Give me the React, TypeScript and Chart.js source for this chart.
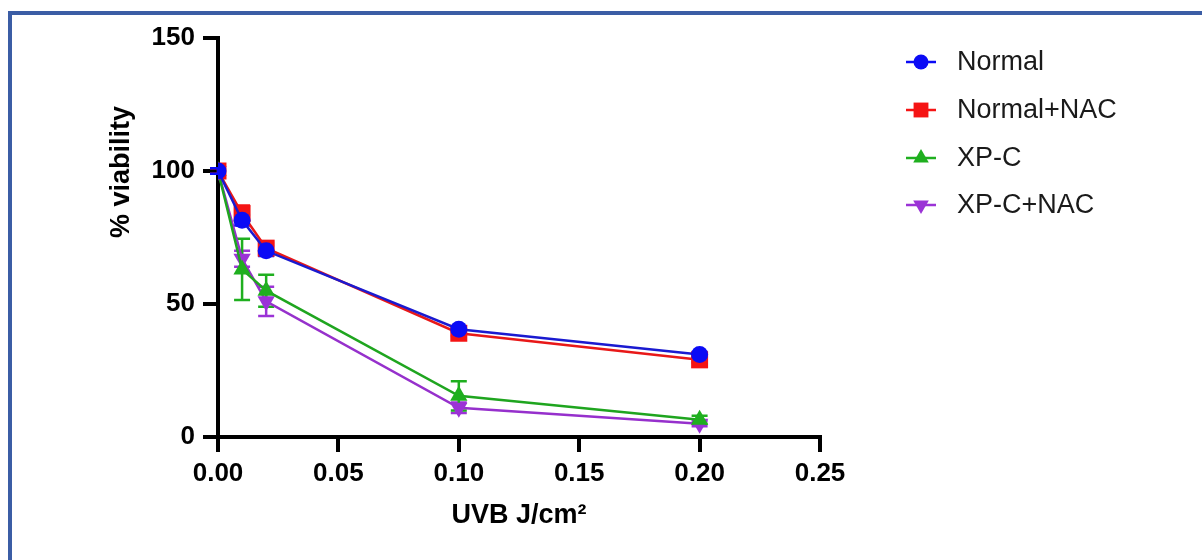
import React, { useEffect, useRef } from "react";
import { Chart, registerables } from "chart.js";

Chart.register(...registerables);

// ---- data ----
const doses = [0, 0.01, 0.02, 0.1, 0.2];
const seriesNames = ["Normal", "Normal+NAC", "XP-C", "XP-C+NAC"];
const normal = [100, 81.5, 70, 40.5, 31];
const normalErr = [1, 2, 2, 1, 1];
const normalNac = [100, 84, 71, 39, 29];
const normalNacErr = [1, 3, 2, 1, 1];
const xpc = [100, 63, 55, 15.5, 6.5];
const xpcErr = [0, 11.5, 6, 5.5, 1.5];
const xpcNac = [100, 67, 51, 11, 5];
const xpcNacErr = [0, 3, 5.5, 2, 1];
const xTicks = [0, 0.05, 0.1, 0.15, 0.2, 0.25];
const yTicks = [0, 50, 100, 150];
const xTitle = "UVB J/cm²";
const yTitle = "% viability";

const colors = ["#0b0bf5", "#f51414", "#1faf1f", "#9b33d6"];
const lineColors = ["#1a1ad0", "#e81818", "#1fa51f", "#9630cc"];
const styles = ["circle", "rect", "triangle", "triangle"];
const rotations = [0, 0, 0, 180];
const radii = [8.5, 12, 10, 10];
const values = [normal, normalNac, xpc, xpcNac];
const errors = [normalErr, normalNacErr, xpcErr, xpcNacErr];

const FONT = "'Liberation Sans', Arial, Helvetica, sans-serif";

function drawMarker(ctx: CanvasRenderingContext2D, style: string, rot: number, x: number, y: number, r: number) {
  ctx.beginPath();
  if (style === "circle") {
    ctx.arc(x, y, r, 0, Math.PI * 2);
  } else if (style === "rect") {
    const s = Math.SQRT1_2 * r;
    ctx.rect(x - s, y - s, 2 * s, 2 * s);
  } else {
    let rad = (rot * Math.PI) / 180;
    ctx.moveTo(x + Math.sin(rad) * r, y - Math.cos(rad) * r);
    rad += (2 * Math.PI) / 3;
    ctx.lineTo(x + Math.sin(rad) * r, y - Math.cos(rad) * r);
    rad += (2 * Math.PI) / 3;
    ctx.lineTo(x + Math.sin(rad) * r, y - Math.cos(rad) * r);
    ctx.closePath();
  }
  ctx.fill();
}

const errorBarPlugin = {
  id: "errorBars",
  beforeDatasetsDraw(chart: any) {
    const ctx = chart.ctx as CanvasRenderingContext2D;
    const xs = chart.scales.x;
    const ys = chart.scales.y;
    ctx.save();
    ctx.lineWidth = 2.5;
    for (let i = values.length - 1; i >= 0; i--) {
      ctx.strokeStyle = colors[i];
      for (let j = 0; j < doses.length; j++) {
        const e = errors[i][j];
        if (!e) continue;
        const px = xs.getPixelForValue(doses[j]);
        const t = ys.getPixelForValue(values[i][j] + e);
        const b = ys.getPixelForValue(values[i][j] - e);
        ctx.beginPath();
        ctx.moveTo(px, t);
        ctx.lineTo(px, b);
        ctx.moveTo(px - 8, t);
        ctx.lineTo(px + 8, t);
        ctx.moveTo(px - 8, b);
        ctx.lineTo(px + 8, b);
        ctx.stroke();
      }
    }
    ctx.restore();
  },
};

const legendPlugin = {
  id: "customLegend",
  afterDraw(chart: any) {
    const ctx = chart.ctx as CanvasRenderingContext2D;
    const legendY = [62, 110, 158, 205];
    const legendR = [7.5, 10.5, 9, 9];
    ctx.save();
    for (let i = 0; i < seriesNames.length; i++) {
      const y = legendY[i];
      ctx.strokeStyle = colors[i];
      ctx.fillStyle = colors[i];
      ctx.lineWidth = 2.5;
      ctx.beginPath();
      ctx.moveTo(906, y);
      ctx.lineTo(936, y);
      ctx.stroke();
      drawMarker(ctx, styles[i], rotations[i], 921, y, legendR[i]);
      ctx.fillStyle = "#1a1a1a";
      ctx.font = `27px ${FONT}`;
      ctx.textAlign = "left";
      ctx.textBaseline = "middle";
      ctx.fillText(seriesNames[i], 957, y + 1);
    }
    // y axis title
    ctx.translate(122, 172);
    ctx.rotate(-Math.PI / 2);
    ctx.fillStyle = "#000";
    ctx.font = `bold 27px ${FONT}`;
    ctx.textAlign = "center";
    ctx.textBaseline = "middle";
    ctx.fillText(yTitle, 0, 0);
    ctx.restore();
  },
};

export default function App() {
  const ref = useRef<HTMLCanvasElement | null>(null);
  useEffect(() => {
    if (!ref.current) return;
    const chart = new Chart(ref.current, {
      type: "line",
      data: {
        datasets: seriesNames.map((name, i) => ({
          label: name,
          data: doses.map((d, j) => ({ x: d, y: values[i][j] })),
          borderColor: lineColors[i],
          backgroundColor: colors[i],
          borderWidth: 2.5,
          pointStyle: styles[i] as any,
          pointRotation: rotations[i],
          pointRadius: radii[i],
          pointBorderWidth: 0,
          pointBackgroundColor: colors[i],
          fill: false,
          tension: 0,
        })),
      },
      options: {
        animation: false,
        responsive: false,
        devicePixelRatio: 1,
        layout: { padding: { left: 0, top: 38, right: 382, bottom: 0 } },
        plugins: { legend: { display: false }, tooltip: { enabled: false } },
        scales: {
          x: {
            type: "linear",
            min: 0,
            max: 0.25,
            afterBuildTicks: (s: any) => {
              s.ticks = xTicks.map((v) => ({ value: v }));
            },
            afterFit: (s: any) => {
              s.height = 123;
            },
            ticks: {
              callback: (v: any) => Number(v).toFixed(2),
              color: "#000",
              font: { family: FONT, size: 26, weight: "bold" },
              padding: 6,
              maxRotation: 0,
            },
            grid: { drawOnChartArea: false, drawTicks: true, tickLength: 15, lineWidth: 4, color: "#000" },
            border: { display: true, color: "#000", width: 4 },
            title: {
              display: true,
              text: xTitle,
              color: "#000",
              font: { family: FONT, size: 27, weight: "bold" },
              padding: { top: 0, bottom: 28 },
            },
          },
          y: {
            type: "linear",
            min: 0,
            max: 150,
            afterBuildTicks: (s: any) => {
              s.ticks = yTicks.map((v) => ({ value: v }));
            },
            afterFit: (s: any) => {
              s.width = 218;
            },
            ticks: {
              color: "#000",
              font: { family: FONT, size: 26, weight: "bold" },
              padding: 8,
            },
            grid: { drawOnChartArea: false, drawTicks: true, tickLength: 15, lineWidth: 4, color: "#000" },
            border: { display: true, color: "#000", width: 4 },
          },
        },
      } as any,
      plugins: [errorBarPlugin, legendPlugin],
    });
    return () => chart.destroy();
  }, []);

  return (
    <div style={{ position: "absolute", left: 0, top: 0, width: 1202, height: 560, background: "#fff" }}>
      <canvas ref={ref} width={1202} height={560} style={{ position: "absolute", left: 0, top: 0 }} />
      <div
        style={{
          position: "absolute",
          left: 8,
          top: 11,
          width: 1202 - 8,
          height: 560 - 11,
          borderTop: "4px solid #3b5da5",
          borderLeft: "4px solid #3b5da5",
          boxSizing: "border-box",
          pointerEvents: "none",
        }}
      />
    </div>
  );
}
